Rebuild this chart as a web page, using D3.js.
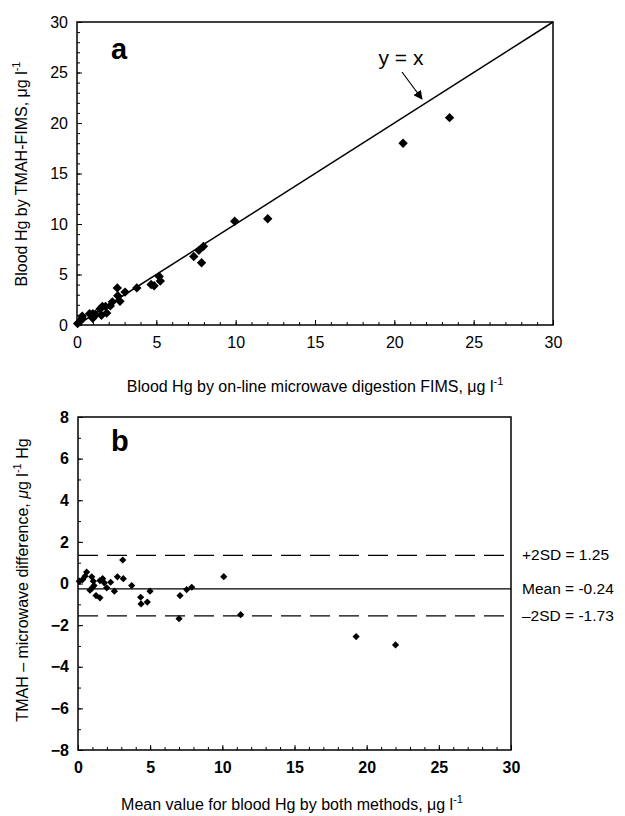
<!DOCTYPE html>
<html>
<head>
<meta charset="utf-8">
<script src="https://cdn.jsdelivr.net/npm/d3@7"></script>
<style>
  body { margin: 0; background: #fff; }
  text { font-family: "Liberation Sans", Arial, sans-serif; fill: #000; }
</style>
</head>
<body>
<script>
// panel a: blood Hg, microwave FIMS (x) vs TMAH-FIMS (y), ug/l
const microwaveHg = [0.04, 0.23, 0.33, 0.32, 0.79, 1.0, 0.99, 1.1, 1.16, 1.54, 1.87, 1.45, 1.6, 1.8, 2.1, 2.23, 2.71,
  2.57, 3.03, 2.54, 3.77, 4.67, 4.86, 5.25, 5.18, 7.36, 7.85, 7.68, 7.97, 9.94, 12.02, 20.55, 23.48];
const tmahHg = [0.15, 0.42, 0.88, 0.67, 1.11, 1.12, 0.67, 0.89, 1.06, 0.96, 1.18, 1.59, 1.83, 1.84, 1.89, 2.29, 2.34,
  2.89, 3.26, 3.67, 3.67, 4.01, 3.88, 4.36, 4.81, 6.78, 6.16, 7.39, 7.79, 10.27, 10.52, 18.0, 20.53];

// panel b: Bland-Altman, mean of both methods vs difference
const meanHg = [0.09, 0.32, 0.6, 0.49, 0.95, 1.06, 0.83, 0.99, 1.11, 1.25, 1.52, 1.52, 1.71, 1.82, 1.99, 2.26, 2.52,
  2.73, 3.14, 3.1, 3.72, 4.34, 4.37, 4.8, 4.99, 7.07, 7.0, 7.53, 7.88, 10.1, 11.27, 19.27, 22.0];
const diffHg = [0.11, 0.19, 0.55, 0.35, 0.32, 0.11, -0.32, -0.21, -0.1, -0.58, -0.69, 0.14, 0.23, 0.03, -0.21, 0.06, -0.37,
  0.32, 0.23, 1.13, -0.1, -0.66, -0.98, -0.89, -0.37, -0.58, -1.69, -0.29, -0.18, 0.33, -1.5, -2.55, -2.95];

// reference lines as drawn, and their labels
const refLines = [1.35, -0.26, -1.56];
const refDash = [true, false, true];
const refLabels = ["+2SD = 1.25", "Mean = -0.24", "\u20132SD = -1.73"];

const xTicksA = [0, 5, 10, 15, 20, 25, 30];
const yTicksA = [0, 5, 10, 15, 20, 25, 30];
const xTicksB = [0, 5, 10, 15, 20, 25, 30];
const yTicksB = [-8, -6, -4, -2, 0, 2, 4, 6, 8];

const svg = d3.select("body").append("svg")
  .attr("width", 625)
  .attr("height", 816);

const diamond = (size) => d3.symbol().type(d3.symbolSquare).size(size);

// ---------- panel a ----------
var xa = d3.scaleLinear().domain([0, 30]).range([77, 553]);
var ya = d3.scaleLinear().domain([0, 30]).range([325, 22]);

var ga = svg.append("g");

function drawAxes(g, x, y, xMinor, yMinor, xMajor, yMajor, bold) {
  var x0 = x.range()[0], x1 = x.range()[1];
  var y0 = y.range()[0], y1 = y.range()[1];
  // minor ticks, inside
  g.append("g").attr("transform", `translate(0,${y0})`)
    .call(d3.axisBottom(x).tickValues(xMinor).tickSize(-3).tickFormat(""))
    .call(a => a.select(".domain").remove());
  g.append("g").attr("transform", `translate(${x0},0)`)
    .call(d3.axisLeft(y).tickValues(yMinor).tickSize(-3).tickFormat(""))
    .call(a => a.select(".domain").remove());
  // major ticks with labels
  g.append("g").attr("transform", `translate(0,${y0})`)
    .call(d3.axisBottom(x).tickValues(xMajor).tickSize(-5).tickPadding(12).tickFormat(d3.format("d")))
    .call(a => a.select(".domain").remove());
  g.append("g").attr("transform", `translate(${x0},0)`)
    .call(d3.axisLeft(y).tickValues(yMajor).tickSize(-5).tickPadding(9).tickFormat(d3.format("d")))
    .call(a => a.select(".domain").remove());
  g.selectAll(".tick line").attr("stroke", "#000").attr("stroke-width", 1);
  g.selectAll(".tick text")
    .style("font-family", '"Liberation Sans", Arial, sans-serif')
    .style("font-size", "16px")
    .style("font-weight", bold ? "bold" : "normal");
  // frame
  g.append("rect")
    .attr("x", x0).attr("y", y1)
    .attr("width", x1 - x0).attr("height", y0 - y1)
    .attr("fill", "none").attr("stroke", "#000").attr("stroke-width", 1.5);
}

drawAxes(ga, xa, ya, d3.range(0, 31, 1), d3.range(0, 31, 1), xTicksA, yTicksA, false);

// y = x line
ga.append("line")
  .attr("x1", xa(0)).attr("y1", ya(0))
  .attr("x2", xa(30)).attr("y2", ya(30))
  .attr("stroke", "#000").attr("stroke-width", 1.5);

ga.selectAll("path.pt")
  .data(microwaveHg.map((v, i) => [v, tmahHg[i]]))
  .enter().append("path")
  .attr("class", "pt")
  .attr("d", diamond(44))
  .attr("transform", d => `translate(${xa(d[0])},${ya(d[1])}) rotate(45)`)
  .attr("fill", "#000");

// label and arrow
svg.append("defs").append("marker")
  .attr("id", "arr").attr("viewBox", "0 0 10 10")
  .attr("refX", 9).attr("refY", 5)
  .attr("markerWidth", 9).attr("markerHeight", 9)
  .attr("markerUnits", "userSpaceOnUse")
  .attr("orient", "auto")
  .append("path").attr("d", "M0,0 L10,5 L0,10 z").attr("fill", "#000");

ga.append("text")
  .attr("x", 401).attr("y", 65)
  .attr("text-anchor", "middle")
  .style("font-size", "21px")
  .text("y = x");
ga.append("line")
  .attr("x1", 402).attr("y1", 72)
  .attr("x2", 422).attr("y2", 99)
  .attr("stroke", "#000").attr("stroke-width", 1.2)
  .attr("marker-end", "url(#arr)");

ga.append("text")
  .attr("x", 111).attr("y", 59)
  .style("font-size", "29px").style("font-weight", "bold")
  .text("a");

var ta = ga.append("text")
  .attr("x", 315).attr("y", 392)
  .attr("text-anchor", "middle")
  .style("font-size", "16px");
ta.append("tspan").text("Blood Hg by on-line microwave digestion FIMS, \u03bcg l");
ta.append("tspan").attr("dy", -7).style("font-size", "11px").text("-1");

var tya = ga.append("text")
  .attr("transform", "translate(27,174) rotate(-90)")
  .attr("text-anchor", "middle")
  .style("font-size", "16px");
tya.append("tspan").text("Blood Hg by TMAH-FIMS, \u03bcg l");
tya.append("tspan").attr("dy", -7).style("font-size", "11px").text("-1");

// ---------- panel b ----------
var xb = d3.scaleLinear().domain([0, 30]).range([78, 511]);
var yb = d3.scaleLinear().domain([-8, 8]).range([750, 417]);

var gb = svg.append("g");
drawAxes(gb, xb, yb, d3.range(0, 31, 1), d3.range(-8, 9, 1), xTicksB, yTicksB, true);

gb.selectAll("line.ref")
  .data(refLines)
  .enter().append("line")
  .attr("class", "ref")
  .attr("x1", xb(0)).attr("x2", xb(30))
  .attr("y1", d => yb(d)).attr("y2", d => yb(d))
  .attr("stroke", "#000").attr("stroke-width", 1.2)
  .attr("stroke-dasharray", (d, i) => refDash[i] ? "20,9" : null);

gb.selectAll("text.ref")
  .data(refLabels)
  .enter().append("text")
  .attr("class", "ref")
  .attr("x", 522)
  .attr("y", (d, i) => yb(refLines[i]) + 5)
  .style("font-size", "15.5px")
  .text(d => d);

gb.selectAll("path.pt")
  .data(meanHg.map((v, i) => [v, diffHg[i]]))
  .enter().append("path")
  .attr("class", "pt")
  .attr("d", diamond(26))
  .attr("transform", d => `translate(${xb(d[0])},${yb(d[1])}) rotate(45)`)
  .attr("fill", "#000");

gb.append("text")
  .attr("x", 111).attr("y", 451)
  .style("font-size", "29px").style("font-weight", "bold")
  .text("b");

var tb = gb.append("text")
  .attr("x", 292).attr("y", 810)
  .attr("text-anchor", "middle")
  .style("font-size", "16px");
tb.append("tspan").text("Mean value for blood Hg by both methods, \u03bcg l");
tb.append("tspan").attr("dy", -7).style("font-size", "11px").text("-1");

var tyb = gb.append("text")
  .attr("transform", "translate(28,580) rotate(-90)")
  .attr("text-anchor", "middle")
  .style("font-size", "16px");
tyb.append("tspan").text("TMAH \u2013 microwave difference, ");
tyb.append("tspan").style("font-style", "italic").text("\u03bc");
tyb.append("tspan").text("g l");
tyb.append("tspan").attr("dy", -7).style("font-size", "11px").text("-1");
tyb.append("tspan").attr("dy", 7).text(" Hg");
</script>
</body>
</html>
